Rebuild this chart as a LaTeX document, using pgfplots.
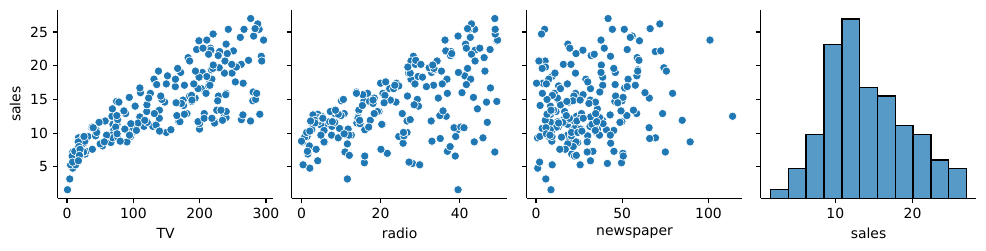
\documentclass[border=0pt]{standalone}
\usepackage{fontspec}
\setmainfont{DejaVu Sans}
\usepackage{pgfplots}
\usepackage{pgfplotstable}
\pgfplotsset{compat=1.18}
\definecolor{tabblue}{RGB}{31,119,180}
\definecolor{histfill}{RGB}{87,153,199}

\pgfplotstableread{
TV radio newspaper sales
230.1 37.8 69.2 22.1
44.5 39.3 45.1 10.4
17.2 45.9 69.3 9.3
151.5 41.3 58.5 18.5
180.8 10.8 58.4 12.9
8.7 48.9 75 7.2
57.5 32.8 23.5 11.8
120.2 19.6 11.6 13.2
8.6 2.1 1 4.8
199.8 2.6 21.2 10.6
66.1 5.8 24.2 8.6
214.7 24 4 17.4
23.8 35.1 65.9 9.2
97.5 7.6 7.2 9.7
204.1 32.9 46 19
195.4 47.7 52.9 22.4
67.8 36.6 114 12.5
281.4 39.6 55.8 24.4
69.2 20.5 18.3 11.3
147.3 23.9 19.1 14.6
218.4 27.7 53.4 18
237.4 5.1 23.5 12.5
13.2 15.9 49.6 5.6
228.3 16.9 26.2 15.5
62.3 12.6 18.3 9.7
262.9 3.5 19.5 12
142.9 29.3 12.6 15
240.1 16.7 22.9 15.9
248.8 27.1 22.9 18.9
70.6 16 40.8 10.5
292.9 28.3 43.2 21.4
112.9 17.4 38.6 11.9
97.2 1.5 30 9.6
265.6 20 0.3 17.4
95.7 1.4 7.4 9.5
290.7 4.1 8.5 12.8
266.9 43.8 5 25.4
74.7 49.4 45.7 14.7
43.1 26.7 35.1 10.1
228 37.7 32 21.5
202.5 22.3 31.6 16.6
177 33.4 38.7 17.1
293.6 27.7 1.8 20.7
206.9 8.4 26.4 12.9
25.1 25.7 43.3 8.5
175.1 22.5 31.5 14.9
89.7 9.9 35.7 10.6
239.9 41.5 18.5 23.2
227.2 15.8 49.9 14.8
66.9 11.7 36.8 9.7
199.8 3.1 34.6 11.4
100.4 9.6 3.6 10.7
216.4 41.7 39.6 22.6
182.6 46.2 58.7 21.2
262.7 28.8 15.9 20.2
198.9 49.4 60 23.7
7.3 28.1 41.4 5.5
136.2 19.2 16.6 13.2
210.8 49.6 37.7 23.8
210.7 29.5 9.3 18.4
53.5 2 21.4 8.1
261.3 42.7 54.7 24.2
239.3 15.5 27.3 15.7
102.7 29.6 8.4 14
131.1 42.8 28.9 18
69 9.3 0.9 9.3
31.5 24.6 2.2 9.5
139.3 14.5 10.2 13.4
237.4 27.5 11 18.9
216.8 43.9 27.2 22.3
199.1 30.6 38.7 18.3
109.8 14.3 31.7 12.4
26.8 33 19.3 8.8
129.4 5.7 31.3 11
213.4 24.6 13.1 17
16.9 43.7 89.4 8.7
27.5 1.6 20.7 6.9
120.5 28.5 14.2 14.2
5.4 29.9 9.4 5.3
116 7.7 23.1 11
76.4 26.7 22.3 11.8
239.8 4.1 36.9 12.3
75.3 20.3 32.5 11.3
68.4 44.5 35.6 13.6
213.5 43 33.8 21.7
193.2 18.4 65.7 15.2
76.3 27.5 16 12
110.7 40.6 63.2 16
88.3 25.5 73.4 12.9
109.8 47.8 51.4 16.7
134.3 4.9 9.3 11.2
28.6 1.5 33 7.3
217.7 33.5 59 19.4
250.9 36.5 72.3 22.2
107.4 14 10.9 11.5
163.3 31.6 52.9 16.9
197.6 3.5 5.9 11.7
184.9 21 22 15.5
289.7 42.3 51.2 25.4
135.2 41.7 45.9 17.2
222.4 4.3 49.8 11.7
296.4 36.3 100.9 23.8
280.2 10.1 21.4 14.8
187.9 17.2 17.9 14.7
238.2 34.3 5.3 20.7
137.9 46.4 59 19.2
25 11 29.7 7.2
90.4 0.3 23.2 8.7
13.1 0.4 25.6 5.3
255.4 26.9 5.5 19.8
225.8 8.2 56.5 13.4
241.7 38 23.2 21.8
175.7 15.4 2.4 14.1
209.6 20.6 10.7 15.9
78.2 46.8 34.5 14.6
75.1 35 52.7 12.6
139.2 14.3 25.6 12.2
76.4 0.8 14.8 9.4
125.7 36.9 79.2 15.9
19.4 16 22.3 6.6
141.3 26.8 46.2 15.5
18.8 21.7 50.4 7
224 2.4 15.6 11.6
123.1 34.6 12.4 15.2
229.5 32.3 74.2 19.7
87.2 11.8 25.9 10.6
7.8 38.9 50.6 6.6
80.2 0 9.2 8.8
220.3 49 3.2 24.7
59.6 12 43.1 9.7
0.7 39.6 8.7 1.6
265.2 2.9 43 12.7
8.4 27.2 2.1 5.7
219.8 33.5 45.1 19.6
36.9 38.6 65.6 10.8
48.3 47 8.5 11.6
25.6 39 9.3 9.5
273.7 28.9 59.7 20.8
43 25.9 20.5 9.6
184.9 43.9 1.7 20.7
73.4 17 12.9 10.9
193.7 35.4 75.6 19.2
220.5 33.2 37.9 20.1
104.6 5.7 34.4 10.4
96.2 14.8 38.9 11.4
140.3 1.9 9 10.3
240.1 7.3 8.7 13.2
243.2 49 44.3 25.4
38 40.3 11.9 10.9
44.7 25.8 20.6 10.1
280.7 13.9 37 16.1
121 8.4 48.7 11.6
197.6 23.3 14.2 16.6
171.3 39.7 37.7 19
187.8 21.1 9.5 15.6
4.1 11.6 5.7 3.2
93.9 43.5 50.5 15.3
149.8 1.3 24.3 10.1
11.7 36.9 45.2 7.3
131.7 18.4 34.6 12.9
172.5 18.1 30.7 14.4
85.7 35.8 49.3 13.3
188.4 18.1 25.6 14.9
163.5 36.8 7.4 18
117.2 14.7 5.4 11.9
234.5 3.4 84.8 11.9
17.9 37.6 21.6 8
206.8 5.2 19.4 12.2
215.4 23.6 57.6 17.1
284.3 10.6 6.4 15
50 11.6 18.4 8.4
164.5 20.9 47.4 14.5
19.6 20.1 17 7.6
168.4 7.1 12.8 11.7
222.4 3.4 13.1 11.5
276.9 48.9 41.8 27
248.4 30.2 20.3 20.2
170.2 7.8 35.2 11.7
276.7 2.3 23.7 11.8
165.6 10 17.6 12.6
156.6 2.6 8.3 10.5
218.5 5.4 27.4 12.2
56.2 5.7 29.7 8.7
287.6 43 71.8 26.2
253.8 21.3 30 17.6
205 45.1 19.6 22.6
139.5 2.1 26.6 10.3
191.1 28.7 18.2 17.3
286 13.9 3.7 15.9
18.7 12.1 23.4 6.7
39.5 41.1 5.8 10.8
75.5 10.8 6 9.9
17.2 4.1 31.6 5.9
166.8 42 3.6 19.6
149.7 35.6 6 17.3
38.2 3.7 13.8 7.6
94.2 4.9 8.1 9.7
177 9.3 6.4 12.8
283.6 42 66.2 25.5
232.1 8.6 8.7 13.4
}\adv

\pgfplotstableread{
edge count
1.6 2
3.9091 7
6.2182 15
8.5273 36
10.8364 42
13.1455 26
15.4545 24
17.7636 17
20.0727 15
22.3818 9
24.6909 7
27.0 7
}\hist

\pgfplotsset{
  panel/.style={
    scale only axis, width=155.3pt, height=135.6pt,
    axis lines=left, axis line style={-, line width=0.8bp, black},
    tick align=outside, major tick length=3.5bp,
    every tick/.style={black, line width=0.8bp},
    tick label style={font=\fontsize{10bp}{12bp}\selectfont},
    label style={font=\fontsize{10bp}{12bp}\selectfont},
    /pgf/number format/assume math mode=true,
    anchor=south west,
  },
  sc/.style={only marks, mark=*, mark size=3bp,
    mark options={fill=tabblue, draw=white, line width=0.48bp}},
}

\begin{document}
\begin{tikzpicture}
\useasboundingbox (0,0) rectangle (709.92pt,180.72pt);

\begin{axis}[panel, at={(41.54pt,37.94pt)},
  xmin=-14.085, xmax=311.185, ymin=0.33, ymax=28.27,
  xtick={0,100,200,300}, ytick={5,10,15,20,25},
  xlabel={TV}, ylabel={sales}]
\addplot[sc] table[x=TV, y=sales] {\adv};
\end{axis}

\begin{axis}[panel, at={(210.02pt,37.94pt)},
  xmin=-2.48, xmax=52.08, ymin=0.33, ymax=28.27,
  xtick={0,20,40}, ytick={5,10,15,20,25}, yticklabels={},
  xlabel={radio}]
\addplot[sc] table[x=radio, y=sales] {\adv};
\end{axis}

\begin{axis}[panel, at={(379.22pt,37.94pt)},
  xmin=-5.385, xmax=119.685, ymin=0.33, ymax=28.27,
  xtick={0,50,100}, ytick={5,10,15,20,25}, yticklabels={},
  xlabel={newspaper}]
\addplot[sc] table[x=newspaper, y=sales] {\adv};
\end{axis}

\begin{axis}[panel, at={(547.70pt,37.94pt)},
  xmin=0.33, xmax=28.27, ymin=0, ymax=44.1,
  xtick={10,20}, x tick label as interval=false,
  ytick={7.3710,15.2630,23.1549,31.0468,38.9387}, yticklabels={},
  xlabel={sales}]
\addplot[ybar interval, fill=histfill, draw=black, line width=1bp] table[x=edge, y=count] {\hist};
\end{axis}
\end{tikzpicture}
\end{document}
